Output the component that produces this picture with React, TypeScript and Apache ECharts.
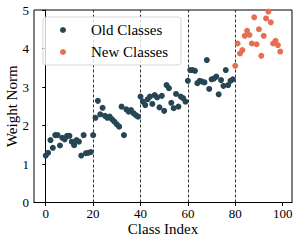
import React, { useEffect, useRef } from "react";
import * as echarts from "echarts";

const oldValues = [
  1.22, 1.29, 1.62, 1.42, 1.75, 1.75, 1.48, 1.68, 1.64, 1.73,
  1.73, 1.58, 1.49, 1.62, 1.58, 1.22, 1.75, 1.28, 1.29, 1.31,
  1.75, 2.2, 2.64, 2.29, 2.46, 2.25, 2.2, 2.23, 2.16, 2.1,
  2.03, 1.97, 2.49, 1.75, 2.42, 2.36, 2.4, 2.32, 2.27, 2.23,
  2.75, 2.62, 2.53, 2.68, 2.75, 2.56, 2.79, 2.73, 2.47, 2.77,
  2.38, 3.05, 2.97, 2.59, 2.45, 2.82, 2.49, 2.75, 2.71, 2.62,
  3.16, 3.44, 3.44, 3.42, 3.1, 3.16, 3.14, 3.12, 3.7, 2.95,
  3.2, 3.22, 3.27, 2.81, 3.18, 3.03, 3.44, 3.05, 3.16, 3.2,
];
const newValues = [
  3.55, 4.13, 3.87, 3.96, 4.33, 4.46, 4.35, 4.13, 4.81, 4.11,
  4.5, 3.81, 4.33, 4.78, 4.96, 4.68, 4.13, 4.2, 4.09, 3.92,
];
const newStart = 80;
const taskBoundaries = [20, 40, 60, 80];
const xTicks = [0, 20, 40, 60, 80, 100];

const FONT = "Liberation Serif";

export default function App() {
  const ref = useRef<HTMLDivElement>(null);
  useEffect(() => {
    const chart = echarts.init(ref.current!, null, { renderer: "svg" });
    chart.setOption({
      animation: false,
      textStyle: { fontFamily: FONT, color: "#000" },
      grid: {
        left: 34,
        right: 7,
        top: 10,
        bottom: 40.5,
        containLabel: false,
        outerBoundsMode: "none",
        show: true,
        borderColor: "#000",
        borderWidth: 1,
        backgroundColor: "transparent",
      },
      legend: {
        orient: "vertical",
        left: 43,
        top: 17,
        padding: [5.5, 13, 5.5, 17],
        itemGap: 7,
        itemWidth: 6,
        itemHeight: 6,
        borderColor: "#d6d6d6",
        borderWidth: 1,
        borderRadius: 3,
        backgroundColor: "rgba(255,255,255,0.8)",
        textStyle: {
          fontFamily: FONT,
          fontSize: 15,
          color: "#000",
          padding: [0, 0, 0, 20],
        },
        data: [
          { name: "Old Classes", icon: "circle" },
          { name: "New Classes", icon: "circle" },
        ],
      },
      xAxis: {
        type: "value",
        min: -4.95,
        max: 103.95,
        name: "Class Index",
        nameLocation: "middle",
        nameGap: 19,
        nameMoveOverlap: false,
        nameTextStyle: { fontFamily: FONT, fontSize: 15, color: "#000" },
        axisLine: { show: true, lineStyle: { color: "#000", width: 1 } },
        axisTick: { show: true, length: 3.5, customValues: xTicks, lineStyle: { color: "#000" } },
        axisLabel: { customValues: xTicks, fontFamily: FONT, fontSize: 13, color: "#000", margin: 4 },
        splitLine: { show: false },
      },
      yAxis: {
        type: "value",
        min: 0,
        max: 5,
        interval: 1,
        name: "Weight Norm",
        nameLocation: "middle",
        nameGap: 15,
        nameMoveOverlap: false,
        nameTextStyle: { fontFamily: FONT, fontSize: 15, color: "#000" },
        axisLine: { show: true, lineStyle: { color: "#000", width: 1 } },
        axisTick: { show: true, length: 3.5, lineStyle: { color: "#000" } },
        axisLabel: { fontFamily: FONT, fontSize: 13, color: "#000", margin: 5 },
        splitLine: { show: false },
      },
      series: [
        {
          name: "Old Classes",
          type: "scatter",
          symbol: "circle",
          symbolSize: 6,
          itemStyle: { color: "#264653", opacity: 1 },
          data: oldValues.map((v, i) => [i, v]),
          markLine: {
            silent: true,
            symbol: ["none", "none"],
            label: { show: false },
            lineStyle: { color: "#000", type: [3, 2], width: 0.8 },
            data: taskBoundaries.map((x) => ({ xAxis: x })),
            z: 1,
          },
        },
        {
          name: "New Classes",
          type: "scatter",
          symbol: "circle",
          symbolSize: 6,
          itemStyle: { color: "#e76f51", opacity: 1 },
          data: newValues.map((v, i) => [newStart + i, v]),
        },
      ],
    });
    return () => chart.dispose();
  }, []);
  return (
    <div
      ref={ref}
      style={{ position: "absolute", left: 0, top: 0, width: 299, height: 243 }}
    />
  );
}
